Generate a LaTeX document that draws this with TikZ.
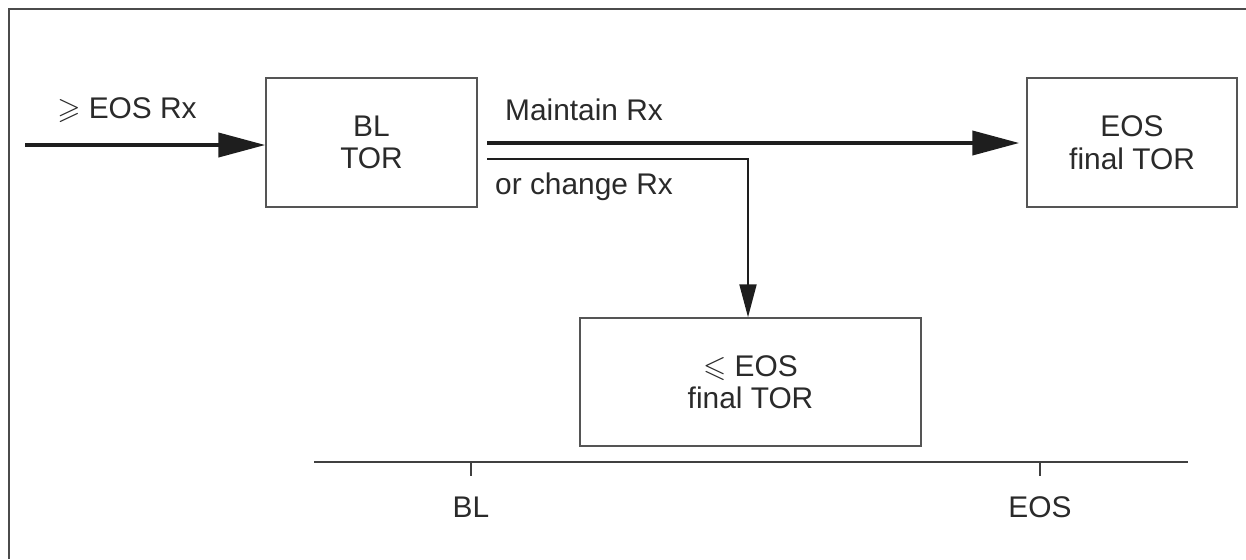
\documentclass[tikz,border=0pt]{standalone}
\usepackage{amssymb}
\usepackage{fontspec}
\setmainfont{Liberation Sans}
\usetikzlibrary{arrows.meta}
\definecolor{ink}{HTML}{1E1E1E}
\definecolor{boxline}{HTML}{555555}
\definecolor{txt}{HTML}{2A2A2A}
\tikzset{
  lbl/.style={font=\fontsize{17}{19}\selectfont, text=txt, inner sep=0pt},
  boxnode/.style={draw=boxline, line width=0.03cm, align=center, inner sep=0pt,
    font=\fontsize{17}{18.5}\selectfont, text=txt},
  bigarrow/.style={draw=ink, line width=0.08cm, -{Triangle[length=0.94cm,width=0.48cm]}},
  smallarrow/.style={draw=ink, line width=0.04cm, -{Triangle[length=0.66cm,width=0.34cm]}},
  frameline/.style={draw=ink!80, line width=0.04cm},
  axisline/.style={draw=ink!85, line width=0.055cm},
}
\begin{document}
\begin{tikzpicture}[x=0.02cm,y=-0.02cm]
\useasboundingbox (0,0) rectangle (1246,559);
\draw[frameline] (9,559) -- (9,9) -- (1246,9);

\node[boxnode, minimum width=4.22cm, minimum height=2.58cm] (bl) at (371.5,142.5) {BL\\TOR};
\node[boxnode, minimum width=4.2cm, minimum height=2.58cm] (eos) at (1132,142.5) {EOS\\final TOR};
\node[boxnode, minimum width=6.82cm, minimum height=2.56cm] (le) at (750.5,382) {$\leqslant$ EOS\\final TOR};

\node[lbl] (lin) at (127,110) {$\geqslant$ EOS Rx};
\node[lbl] (lmain) at (584,110) {Maintain Rx};
\node[lbl] (lchg) at (584,187) {or change Rx};

\coordinate (in) at (25,145);
\draw[bigarrow] (in) -- (in -| bl.west);

\coordinate (m0) at (487,143);
\draw[bigarrow, shorten >=0.14cm] (m0) -- (m0 -| eos.west);

\coordinate (c0) at (487,159);
\coordinate (c1) at (748,159);
\draw[smallarrow] (c0) -- (c1) -- (c1 |- le.north);

\coordinate (a0) at (314,462);
\coordinate (a1) at (1188,462);
\draw[axisline] (a0) -- (a1);
\coordinate (tbl) at (471,462);
\coordinate (teos) at (1040,462);
\draw[axisline, line width=0.04cm] (tbl) -- ++(0,14);
\draw[axisline, line width=0.04cm] (teos) -- ++(0,14);
\node[lbl] (xbl) at (471,507) {BL};
\node[lbl] (xeos) at (1040,507) {EOS};
\end{tikzpicture}
\end{document}
